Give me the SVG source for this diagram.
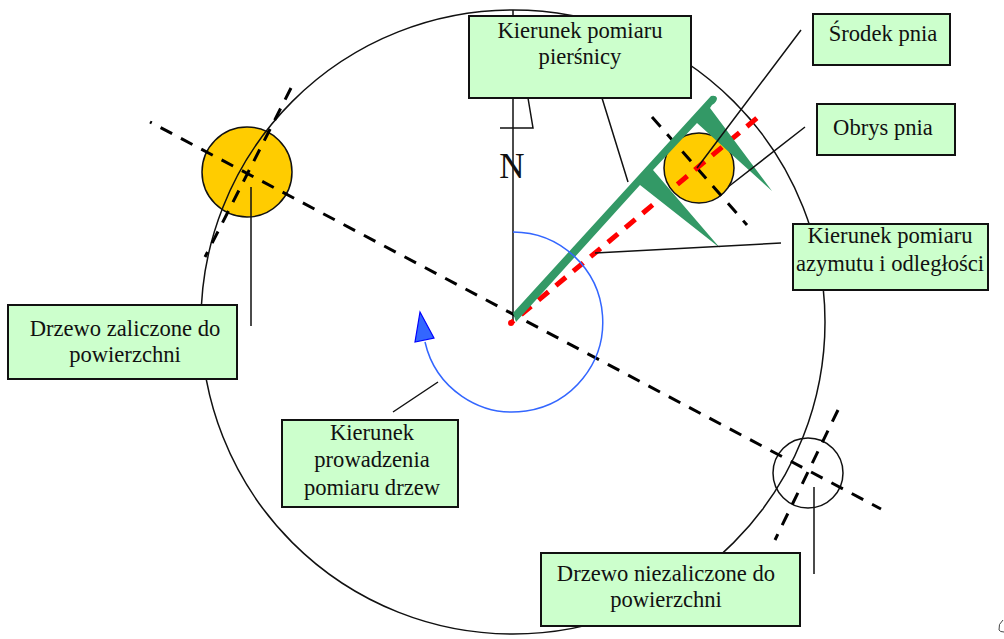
<svg xmlns="http://www.w3.org/2000/svg" width="1004" height="639" viewBox="0 0 1004 639">
<style>
.box{fill:#ccffcc;stroke:#111;stroke-width:2}
.lbl{font-family:"Liberation Serif","Times New Roman",serif;font-size:22.6px;fill:#111;text-anchor:middle}
.thin{fill:none;stroke:#111;stroke-width:1.5}
.dash{fill:none;stroke:#000;stroke-width:3;stroke-dasharray:13 10}
.tree{fill:#ffcc00;stroke:#111;stroke-width:1.5}
</style>
<rect width="1004" height="639" fill="#fff"/>
<g id="tree-counted"><circle cx="247" cy="172" r="45" class="tree"/></g>
<g id="tree-measured"><circle cx="699" cy="168" r="35" class="tree"/></g>
<g id="tree-not-counted"><circle cx="808" cy="473" r="35" fill="none" stroke="#111" stroke-width="1.5"/></g>
<g id="plot-circle"><circle cx="513" cy="322" r="312" class="thin"/></g>
<g id="connectors">
<path class="thin" d="M513 10V322M500 128H533L528 98"/>
<path class="dash" d="M150 122L881 509" stroke-dashoffset="11"/>
<path class="dash" d="M291 88L205 257"/>
<path class="dash" d="M652 117L747 225"/>
<path class="dash" d="M838 410L775 540"/>
<path d="M511 323L757 118" fill="none" stroke="#f00" stroke-width="5" stroke-dasharray="13 9.6" stroke-dashoffset="9.4"/>
<circle cx="511" cy="323" r="3" fill="#f00"/>
<path d="M513 313L711 96Q716 95 717 98Q717 102 712 105L710 108L772 191L697 123L653 170L720 248L640 185L516 322Z" fill="#339966"/>
<path d="M513 232A90 90 0 1 1 425 342" fill="none" stroke="#3366ff" stroke-width="1.5"/>
<path d="M420 312L434 338L415 342Z" fill="#3366ff" stroke="#0000ff" stroke-width="1.2"/>
<path class="thin" d="M602 98L628 182M697 168L801 30M728 187L805 127M595 253L781 243M251 187V326M438 382L393 412M814 487V574"/>
<path d="M1003 620Q998 624 999 630Q1000 632 1004 632" fill="none" stroke="#444" stroke-width="1"/>
</g>
<g id="label-north"><text x="512" y="178" font-family="Liberation Serif, serif" font-size="35" fill="#111" text-anchor="middle">N</text></g>
<g id="box-piersnica"><rect class="box" x="469" y="16" width="222" height="82"/><text class="lbl" x="580" y="38">Kierunek pomiaru</text><text class="lbl" x="580" y="64">pierśnicy</text></g>
<g id="box-srodek"><rect class="box" x="813" y="14" width="137" height="51"/><text class="lbl" x="883" y="41">Środek pnia</text></g>
<g id="box-obrys"><rect class="box" x="817" y="104" width="138" height="51"/><text class="lbl" x="883" y="135">Obrys pnia</text></g>
<g id="box-azymut"><rect class="box" x="793" y="224" width="195" height="66"/><text class="lbl" x="890" y="243">Kierunek pomiaru</text><text class="lbl" x="890" y="271">azymutu i odległości</text></g>
<g id="box-zaliczone"><rect class="box" x="8" y="305" width="229" height="74"/><text class="lbl" x="125" y="336">Drzewo zaliczone do</text><text class="lbl" x="125" y="362">powierzchni</text></g>
<g id="box-prowadzenie"><rect class="box" x="282" y="420" width="176" height="87"/><text class="lbl" x="372" y="440">Kierunek</text><text class="lbl" x="372" y="467">prowadzenia</text><text class="lbl" x="372" y="495">pomiaru drzew</text></g>
<g id="box-niezaliczone"><rect class="box" x="541" y="553" width="259" height="73"/><text class="lbl" x="666" y="581">Drzewo niezaliczone do</text><text class="lbl" x="666" y="607">powierzchni</text></g>
</svg>
